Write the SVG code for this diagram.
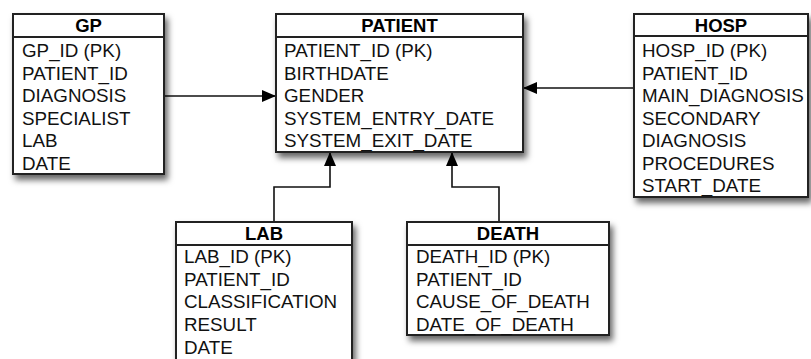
<svg xmlns="http://www.w3.org/2000/svg" width="811" height="359" viewBox="0 0 811 359">
<defs>
<filter id="sh" x="-10%" y="-10%" width="130%" height="140%">
<feDropShadow dx="3" dy="5" stdDeviation="3" flood-color="#000" flood-opacity="0.6"/>
</filter>
<marker id="arr" markerWidth="14" markerHeight="12" refX="13" refY="6" orient="auto" markerUnits="userSpaceOnUse">
<path d="M0,0 L14,6 L0,12 Z" fill="#000"/>
</marker>
</defs>
<style>
.box{fill:#fff;stroke:#222;stroke-width:2}
.sep{stroke:#222;stroke-width:2}
.h{font-family:"Liberation Sans",Arial,sans-serif;font-size:18.5px;font-weight:bold;fill:#000;text-anchor:middle}
.t{font-family:"Liberation Sans",Arial,sans-serif;font-size:18.8px;fill:#111}
.c{fill:none;stroke:#111;stroke-width:1.6;marker-end:url(#arr)}
</style>
<rect width="811" height="359" fill="#fff"/>
<g id="connectors">
<path class="c" d="M164,96 L275,96"/>
<path class="c" d="M634,88 L524,88"/>
<path class="c" d="M274,222 L274,187 L330,187 L330,153"/>
<path class="c" d="M499,222 L499,187 L452,187 L452,153"/>
</g>
<g id="GP">
<rect class="box" x="13" y="14" width="151" height="160" filter="url(#sh)"/>
<line class="sep" x1="13" y1="37" x2="164" y2="37"/>
<text class="h" x="88.5" y="32">GP</text>
<text class="t" x="22" y="57">GP_ID (PK)</text>
<text class="t" x="22" y="79.5">PATIENT_ID</text>
<text class="t" x="22" y="102">DIAGNOSIS</text>
<text class="t" x="22" y="124.5">SPECIALIST</text>
<text class="t" x="22" y="147">LAB</text>
<text class="t" x="22" y="169.5">DATE</text>
</g>
<g id="PATIENT">
<rect class="box" x="276" y="14" width="247" height="138" filter="url(#sh)"/>
<line class="sep" x1="276" y1="37" x2="523" y2="37"/>
<text class="h" x="399.5" y="32">PATIENT</text>
<text class="t" x="284" y="57">PATIENT_ID (PK)</text>
<text class="t" x="284" y="79.5">BIRTHDATE</text>
<text class="t" x="284" y="102">GENDER</text>
<text class="t" x="284" y="124.5">SYSTEM_ENTRY_DATE</text>
<text class="t" x="284" y="147">SYSTEM_EXIT_DATE</text>
</g>
<g id="HOSP">
<rect class="box" x="634" y="14" width="174" height="183" filter="url(#sh)"/>
<line class="sep" x1="634" y1="36" x2="808" y2="36"/>
<text class="h" x="721" y="32">HOSP</text>
<text class="t" x="642" y="57">HOSP_ID (PK)</text>
<text class="t" x="642" y="79.5">PATIENT_ID</text>
<text class="t" x="642" y="102">MAIN_DIAGNOSIS</text>
<text class="t" x="642" y="124.5">SECONDARY</text>
<text class="t" x="642" y="147">DIAGNOSIS</text>
<text class="t" x="642" y="169.5">PROCEDURES</text>
<text class="t" x="642" y="192">START_DATE</text>
</g>
<g id="LAB">
<rect class="box" x="176" y="222" width="176" height="145" filter="url(#sh)"/>
<line class="sep" x1="176" y1="245" x2="352" y2="245"/>
<text class="h" x="264" y="240">LAB</text>
<text class="t" x="184" y="263">LAB_ID (PK)</text>
<text class="t" x="184" y="285.5">PATIENT_ID</text>
<text class="t" x="184" y="308">CLASSIFICATION</text>
<text class="t" x="184" y="331">RESULT</text>
<text class="t" x="184" y="354">DATE</text>
</g>
<g id="DEATH">
<rect class="box" x="407" y="222" width="202" height="113" filter="url(#sh)"/>
<line class="sep" x1="407" y1="245" x2="609" y2="245"/>
<text class="h" x="508" y="240">DEATH</text>
<text class="t" x="416" y="263">DEATH_ID (PK)</text>
<text class="t" x="416" y="285.5">PATIENT_ID</text>
<text class="t" x="416" y="308">CAUSE_OF_DEATH</text>
<text class="t" x="416" y="331">DATE_OF_DEATH</text>
</g>
</svg>
